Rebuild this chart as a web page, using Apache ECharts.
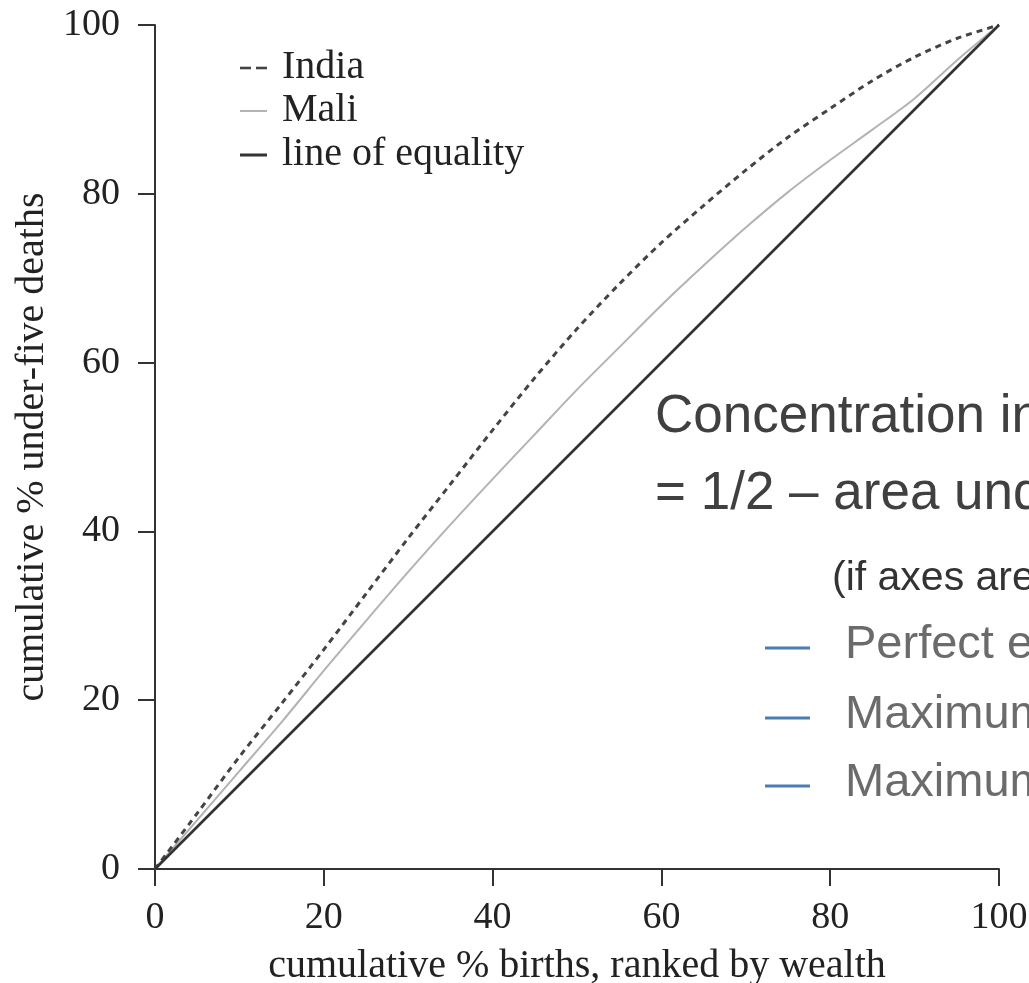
<!DOCTYPE html>
<html>
<head>
<meta charset="utf-8">
<script src="https://cdn.jsdelivr.net/npm/echarts@6/dist/echarts.min.js"></script>
<style>
  html, body { margin: 0; padding: 0; background: #ffffff; }
  #chart { width: 1029px; height: 983px; }
</style>
</head>
<body>
<div id="chart"></div>
<script>
// ---- data ----
const xPct = [0, 5, 10, 15, 20, 25, 30, 35, 40, 45, 50, 55, 60, 65, 70, 75, 80, 85, 90, 95, 100];
const india = [0, 6.6, 13.3, 19.6, 26.0, 32.6, 39.2, 45.6, 52.0, 58.2, 64.0, 69.3, 74.2, 78.6, 82.8, 86.7, 90.1, 93.4, 96.2, 98.4, 100];
const mali = [0, 5.8, 11.6, 17.4, 23.5, 29.4, 35.2, 40.8, 46.2, 51.5, 56.8, 61.8, 66.8, 71.5, 76.0, 80.2, 84.0, 87.6, 91.3, 95.8, 100];
const equalityX = [0, 100];
const equalityY = [0, 100];
const seriesNames = ['India', 'Mali', 'line of equality'];
const xTitle = 'cumulative % births, ranked by wealth';
const yTitle = 'cumulative % under-five deaths';
const noteLines = ['Concentration index', '= 1/2 \u2013 area under curve', '(if axes are'];
const keyLines = ['Perfect equality', 'Maximum', 'Maximum'];

const pairs = (xs, ys) => xs.map((x, i) => [x, ys[i]]);

const serif = '"Liberation Serif", "DejaVu Serif", serif';
const sans = '"Liberation Sans", Arial, sans-serif';

const lineColors = ['#444444', '#b3b3b3', '#333333'];
const lineWidths = [3, 2, 2.6];
const lineDashes = [[6, 5], 'solid', 'solid'];

const chart = echarts.init(document.getElementById('chart'), null, { renderer: 'canvas' });

const axisCommon = {
  type: 'value', min: 0, max: 100, interval: 20,
  axisLine: { show: true, lineStyle: { color: '#333333', width: 2 } },
  axisTick: { show: true, inside: false, length: 17, lineStyle: { color: '#333333', width: 2 } },
  splitLine: { show: false },
  nameLocation: 'middle',
  nameTextStyle: { fontFamily: serif, fontSize: 40, color: '#222222' }
};

const graphics = [];
// legend drawn as a key in the upper left
const legendY = [68, 111, 155];
seriesNames.forEach((n, i) => {
  if (i === 0) {
    graphics.push({ type: 'line', shape: { x1: 240, y1: legendY[i], x2: 251, y2: legendY[i] }, style: { stroke: lineColors[i], lineWidth: 2.6 } });
    graphics.push({ type: 'line', shape: { x1: 256, y1: legendY[i], x2: 267, y2: legendY[i] }, style: { stroke: lineColors[i], lineWidth: 2.6 } });
  } else {
    graphics.push({ type: 'line', shape: { x1: 240, y1: legendY[i], x2: 267, y2: legendY[i] }, style: { stroke: lineColors[i], lineWidth: i === 1 ? 2 : 3 } });
  }
  graphics.push({ type: 'text', left: 282, top: legendY[i] - 21, style: { text: n, font: '40px ' + serif, fill: '#222222' } });
});

const noteX = 655;
graphics.push({ type: 'text', left: noteX, top: 418 - 27, style: { text: noteLines[0], font: '53px ' + sans, fill: '#404040' } });
graphics.push({ type: 'text', left: noteX, top: 495 - 27, style: { text: noteLines[1], font: '53px ' + sans, fill: '#404040' } });
graphics.push({ type: 'text', left: 832, top: 578 - 20, style: { text: noteLines[2], font: '41px ' + sans, fill: '#333333' } });
const keyY = [645, 715, 783];
keyLines.forEach((t, i) => {
  graphics.push({ type: 'line', shape: { x1: 765, y1: keyY[i] + 3, x2: 810, y2: keyY[i] + 3 }, style: { stroke: '#4a7db4', lineWidth: 3 } });
  graphics.push({ type: 'text', left: 845, top: keyY[i] - 23.5, style: { text: t, font: '47px ' + sans, fill: '#6b6b6b' } });
});

chart.setOption({
  animation: false,
  backgroundColor: '#ffffff',
  grid: { left: 155, right: 30, top: 25, bottom: 114, containLabel: false, outerBoundsMode: 'none' },
  xAxis: Object.assign({}, axisCommon, {
    name: xTitle, nameGap: 77,
    axisLabel: { fontFamily: serif, fontSize: 38, color: '#222222', margin: 30 }
  }),
  yAxis: Object.assign({}, axisCommon, {
    name: yTitle, nameGap: 84,
    axisLabel: { fontFamily: serif, fontSize: 38, color: '#222222', margin: 35 }
  }),
  series: seriesNames.map((n, i) => ({
    name: n, type: 'line',
    data: i === 0 ? pairs(xPct, india) : (i === 1 ? pairs(xPct, mali) : pairs(equalityX, equalityY)),
    smooth: i < 2 ? 0.3 : false,
    showSymbol: false, symbol: 'none',
    itemStyle: { color: lineColors[i] },
    lineStyle: { color: lineColors[i], width: lineWidths[i], type: lineDashes[i] },
    z: [3, 2, 4][i]
  })),
  graphic: graphics
});
</script>
</body>
</html>
